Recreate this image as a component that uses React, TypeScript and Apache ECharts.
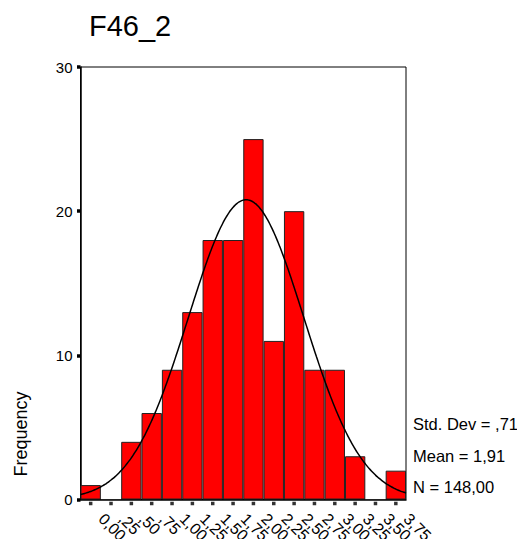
import React, { useEffect, useRef } from "react";
import * as echarts from "echarts";

const binLabels = ["0,00", ",25", ",50", ",75", "1,00", "1,25", "1,50", "1,75", "2,00", "2,25", "2,50", "2,75", "3,00", "3,25", "3,50", "3,75"];
const binCenters = [0, 0.25, 0.5, 0.75, 1.0, 1.25, 1.5, 1.75, 2.0, 2.25, 2.5, 2.75, 3.0, 3.25, 3.5, 3.75];
const frequencies = [1, 0, 4, 6, 9, 13, 18, 18, 25, 11, 20, 9, 9, 3, 0, 2];
const yTicks = [0, 10, 20, 30];
const stats = { stdDev: 0.71, mean: 1.91, n: 148 };
const statLabels = ["Std. Dev = ,71", "Mean = 1,91", "N = 148,00"];
const binWidth = 0.25;

const FONT = "'Liberation Sans', Arial, Helvetica, sans-serif";

export default function App() {
  const ref = useRef<HTMLDivElement>(null);
  useEffect(() => {
    if (!ref.current) return;
    const chart = echarts.init(ref.current, null, { renderer: "svg" });
    const xMin = binCenters[0] - binWidth / 2;
    const xMax = binCenters[binCenters.length - 1] + binWidth / 2;
    const curve: number[][] = [];
    const steps = 160;
    for (let i = 0; i <= steps; i++) {
      const x = xMin + ((xMax - xMin) * i) / steps;
      const z = (x - stats.mean) / stats.stdDev;
      const y = (stats.n * binWidth) / (stats.stdDev * Math.sqrt(2 * Math.PI)) * Math.exp(-0.5 * z * z);
      curve.push([x, y]);
    }
    chart.setOption({
      animation: false,
      textStyle: { fontFamily: FONT },
      grid: {
        left: 80.5,
        right: 119,
        top: 67,
        bottom: 47.5,
        show: true,
        borderColor: "#000",
        borderWidth: 1,
        backgroundColor: "transparent",
      },
      xAxis: [
        {
          type: "category",
          data: binLabels,
          boundaryGap: true,
          axisLine: { show: true, onZero: false, lineStyle: { color: "#000", width: 1.5 } },
          axisTick: { show: false },
          axisLabel: { rotate: -45, color: "#000", fontSize: 16, fontFamily: FONT, margin: 6, padding: [0, 0, 0, 15], interval: 0 },
          splitLine: { show: false },
        },
        {
          type: "value",
          min: xMin,
          max: xMax,
          position: "bottom",
          axisLine: { show: false, onZero: false },
          axisLabel: { show: false },
          splitLine: { show: false },
          axisTick: { show: false },
        },
      ],
      yAxis: {
        type: "value",
        min: 0,
        max: 30,
        interval: 10,
        axisLine: { show: true, onZero: false, lineStyle: { color: "#000", width: 1.5 } },
        axisTick: { show: true, length: 3.5, lineStyle: { color: "#000", width: 3.5 } },
        axisLabel: { color: "#000", fontSize: 15, fontFamily: FONT, margin: 8 },
        splitLine: { show: false },
      },
      series: [
        {
          type: "bar",
          data: frequencies,
          barCategoryGap: "0%",
          itemStyle: { color: "#ff0000", borderColor: "#222", borderWidth: 1 },
          xAxisIndex: 0,
        },
        {
          type: "line",
          data: curve,
          xAxisIndex: 1,
          showSymbol: false,
          smooth: true,
          lineStyle: { color: "#000", width: 1.5 },
        },
        {
          type: "scatter",
          xAxisIndex: 1,
          data: binCenters.map((c) => [c, 0]),
          symbol: "rect",
          symbolSize: [3.5, 3.5],
          symbolOffset: [0, 4],
          clip: false,
          itemStyle: { color: "#000" },
          silent: true,
          z: 5,
        },
      ],
      graphic: [
        {
          type: "text",
          left: 89,
          top: 11,
          style: { text: "F46_2", fontSize: 29, fontFamily: FONT, fill: "#000" },
        },
        {
          type: "text",
          x: 30,
          y: 434,
          rotation: Math.PI / 2,
          style: { text: "Frequency", fontSize: 18, fontFamily: FONT, fill: "#000", align: "center", verticalAlign: "bottom" },
        },
        ...statLabels.map((t, i) => ({
          type: "text",
          x: 413,
          y: 424 + i * 31.5,
          style: { text: t, fontSize: 16.5, fontFamily: FONT, fill: "#000", align: "left", verticalAlign: "middle" },
        })),
      ],
    });
    return () => chart.dispose();
  }, []);
  return <div ref={ref} style={{ width: 525, height: 547, margin: -8 }} />;
}
